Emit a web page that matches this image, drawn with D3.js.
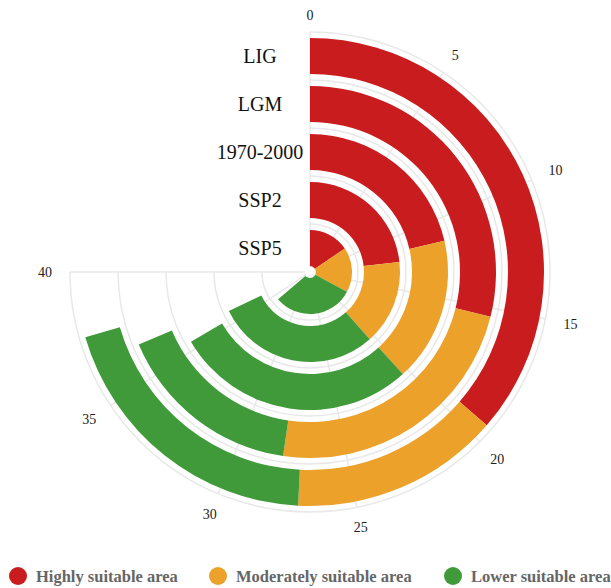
<!DOCTYPE html>
<html>
<head>
<meta charset="utf-8">
<script src="https://cdn.jsdelivr.net/npm/d3@7"></script>
<style>
  html, body { margin: 0; padding: 0; background: #fff; }
  svg { display: block; }
  .gv-cat { font-family: "Liberation Serif", "Times New Roman", serif; font-size: 20px; fill: #111; }
  .gv-tick { font-family: "Liberation Serif", "Times New Roman", serif; font-size: 14px; fill: #222; }
  .gv-legend { font-family: "Liberation Serif", "Times New Roman", serif; font-size: 16.5px; font-weight: bold; fill: #666; }
</style>
</head>
<body>
<div class="gv-chart"></div>
<script>
// categories from outer ring to inner ring
var categories = ["LIG", "LGM", "1970-2000", "SSP2", "SSP5"];
var highly = [19.4, 15.4, 11.4, 12.4, 8.3];
var moderately = [7.7, 12.5, 9.0, 8.1, 9.2];
var lower = [10.5, 8.7, 15.1, 15.7, 16.5];

var seriesNames = ["Highly suitable area", "Moderately suitable area", "Lower suitable area"];
var colours = ["#c91c1e", "#eba12a", "#409a3a"];
var angleTicks = [0, 5, 10, 15, 20, 25, 30, 35, 40];

var width = 611, height = 588;
var cx = 310, cy = 272, outerR = 240;

var svg = d3.select(".gv-chart").append("svg").attr("width", width).attr("height", height);

var rows = categories.map((c, i) => ({ cat: c, highly: highly[i], moderately: moderately[i], lower: lower[i] }));
var stacked = d3.stack().keys(["highly", "moderately", "lower"])(rows);

var angle = d3.scaleLinear().domain([0, 40]).range([0, 1.5 * Math.PI]);
var radius = d3.scaleBand()
    .domain(categories.slice().reverse())
    .range([0, outerR])
    .paddingInner(0.25)
    .paddingOuter(0.125);

var g = svg.append("g").attr("transform", `translate(${cx},${cy})`);

// grid: circles at band boundaries, spokes at angle ticks
var grid = g.append("g").attr("fill", "none").attr("stroke", "#e8e8e8").attr("stroke-width", 1.5);
var step = radius.step();
d3.range(1, categories.length + 1).forEach(k => {
    grid.append("path").attr("d", d3.arc()({ innerRadius: k * step, outerRadius: k * step, startAngle: 0, endAngle: angle(40) }));
});
angleTicks.forEach(t => {
    var a = angle(t);
    grid.append("line")
        .attr("x1", 0).attr("y1", 0)
        .attr("x2", outerR * Math.sin(a)).attr("y2", -outerR * Math.cos(a));
});

// bars
var arc = d3.arc();
stacked.forEach((layer, li) => {
    g.append("g").selectAll("path")
        .data(layer)
        .enter()
        .append("path")
        .attr("fill", colours[li])
        .attr("d", d => arc({
            innerRadius: radius(d.data.cat),
            outerRadius: radius(d.data.cat) + radius.bandwidth(),
            startAngle: angle(d[0]),
            endAngle: angle(d[1])
        }));
});

// centre dot
g.append("circle").attr("r", 5).attr("fill", "#fff");

// category labels along the 0 spoke
g.append("g").selectAll("text")
    .data(categories)
    .enter()
    .append("text")
    .attr("class", "gv-cat")
    .attr("x", -50)
    .attr("y", d => -(radius(d) + radius.bandwidth() / 2) + 6.5)
    .attr("text-anchor", "middle")
    .text(d => d);

// angle tick labels
var labelR = 253;
angleTicks.forEach(t => {
    var a = angle(t);
    var s = Math.sin(a), c = Math.cos(a);
    var txt = g.append("text").attr("class", "gv-tick").text(t);
    var w = txt.node().getBBox().width, h = 9;
    var r = labelR + Math.abs(s) * (w / 2 + 5) + Math.abs(c) * h / 2;
    txt.attr("x", r * s)
        .attr("y", -r * c + 5)
        .attr("text-anchor", "middle");
});

// legend
var legendX = [18, 218, 453];
var legend = svg.append("g");
seriesNames.forEach((n, i) => {
    legend.append("circle").attr("cx", legendX[i]).attr("cy", 576).attr("r", 9).attr("fill", colours[i]);
    legend.append("text").attr("class", "gv-legend").attr("x", legendX[i] + 18).attr("y", 582).text(n);
});
</script>
</body>
</html>
